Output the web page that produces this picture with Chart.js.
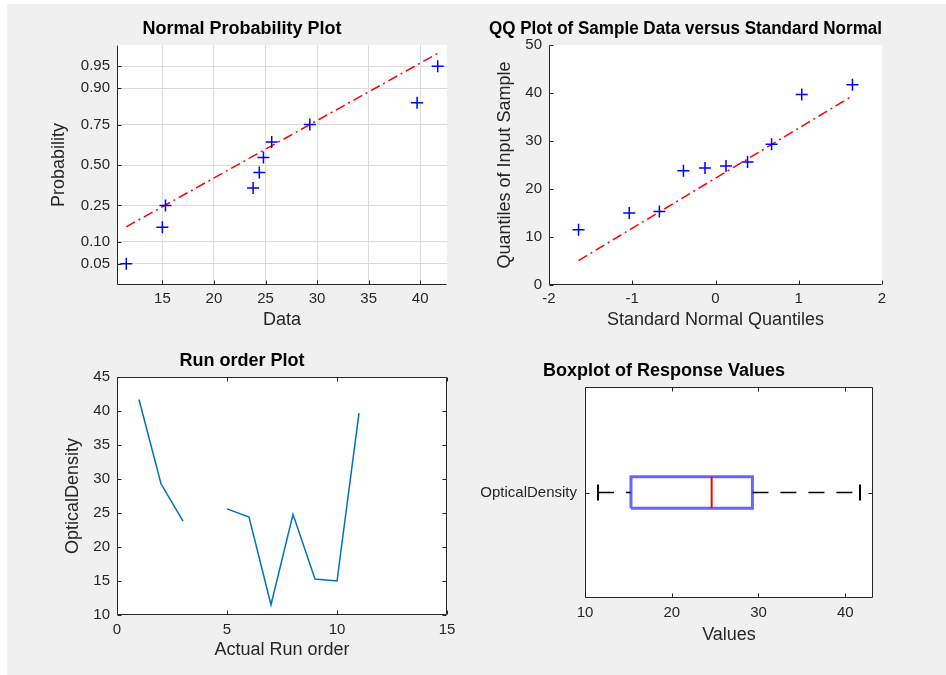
<!DOCTYPE html>
<html>
<head>
<meta charset="utf-8">
<title>Optical density diagnostics</title>
<script src="https://cdn.jsdelivr.net/npm/chart.js@4.4.1/dist/chart.umd.min.js"></script>
<style>
  html, body { margin: 0; padding: 0; width: 946px; height: 675px; overflow: hidden; background: #fff; }
  #fig { position: absolute; left: 7px; top: 4px; right: 0; bottom: 0; background: #f0f0f0; }
  canvas { position: absolute; }
</style>
</head>
<body>
<div id="fig"></div>
<canvas id="normChart" width="490" height="330" style="left:37px;top:5px"></canvas>
<canvas id="qqChart" width="453" height="330" style="left:489px;top:5px"></canvas>
<canvas id="runChart" width="490" height="328" style="left:37px;top:337px"></canvas>
<canvas id="boxChart" width="548" height="301" style="left:455px;top:347px"></canvas>
<script>
// readings in run order, run 4 has no value
const runOrder = [1, 2, 3, 4, 5, 6, 7, 8, 9, 10, 11];
const opticalDensity = [41.7, 29.3, 23.8, null, 25.6, 24.4, 11.5, 24.8, 15.3, 15.0, 39.7];

// standard normal quantiles of the plotting positions
const normalQuantiles = [-1.645, -1.036, -0.674, -0.385, -0.126, 0.126, 0.385, 0.674, 1.036, 1.645];

// probability axis of the normal plot
const probTickValues = [-1.645, -1.282, -0.674, 0, 0.674, 1.282, 1.645];
const probTickLabels = ['0.05', '0.10', '0.25', '0.50', '0.75', '0.90', '0.95'];

// reference lines (through the quartiles)
const normLineX = [11.5, 41.7];
const normLineZ = [-1.03, 1.86];
const qqLineX = [-1.645, 1.645];
const qqLineY = [5.1, 39.4];

// boxplot summary
const whiskerLow = 11.5;
const quartile1 = 15.3;
const medianValue = 24.6;
const quartile3 = 29.3;
const whiskerHigh = 41.7;

// tick labels
const normXTicks = [15, 20, 25, 30, 35, 40];
const qqXTicks = [-2, -1, 0, 1, 2];
const qqYTicks = [0, 10, 20, 30, 40, 50];
const runXTicks = [0, 5, 10, 15];
const runYTicks = [10, 15, 20, 25, 30, 35, 40, 45];
const boxXTicks = [10, 20, 30, 40];
const boxYTicks = [1];
const boxYLabels = ['OpticalDensity'];

const sortedDensity = opticalDensity.filter(v => v !== null).sort((a, b) => a - b);

Chart.defaults.font.family = '"Liberation Sans", Arial, sans-serif';
Chart.defaults.color = '#262626';
Chart.defaults.animation = false;

const axisColor = '#262626';

// white plot box, inward ticks and optional full box like a MATLAB axes
const matlabAxes = {
  id: 'matlabAxes',
  beforeDraw(chart) {
    const a = chart.chartArea;
    const ctx = chart.ctx;
    ctx.save();
    ctx.fillStyle = '#ffffff';
    ctx.fillRect(a.left, a.top, a.right - a.left, a.bottom - a.top);
    ctx.restore();
  },
  afterDraw(chart, args, opts) {
    const ctx = chart.ctx;
    const a = chart.chartArea;
    const l = Math.round(a.left) + 0.5, r = Math.round(a.right) - 0.5;
    const t = Math.round(a.top) + 0.5, b = Math.round(a.bottom) - 0.5;
    const len = 4;
    ctx.save();
    ctx.strokeStyle = axisColor;
    ctx.lineWidth = 1;
    ctx.beginPath();
    ctx.moveTo(l, t); ctx.lineTo(l, b); ctx.lineTo(r, b);
    if (opts.box) { ctx.lineTo(r, t); ctx.lineTo(l, t); }
    chart.scales.x.ticks.forEach(tk => {
      const px = Math.round(chart.scales.x.getPixelForValue(tk.value)) + 0.5;
      ctx.moveTo(px, b); ctx.lineTo(px, b - len);
      if (opts.box) { ctx.moveTo(px, t); ctx.lineTo(px, t + len); }
    });
    chart.scales.y.ticks.forEach(tk => {
      const py = Math.round(chart.scales.y.getPixelForValue(tk.value)) + 0.5;
      ctx.moveTo(l, py); ctx.lineTo(l + len, py);
      if (opts.box) { ctx.moveTo(r, py); ctx.lineTo(r - len, py); }
    });
    ctx.stroke();
    ctx.restore();
  }
};

function fixedTicks(values) {
  return scale => { scale.ticks = values.map(v => ({ value: v })); };
}

function makeTitle(text, top, bottom) {
  return { display: true, text: text, color: '#000', font: { size: 18, weight: 'bold' }, padding: { top: top, bottom: bottom } };
}

function axisTitle(text, pad) {
  return { display: true, text: text, color: axisColor, font: { size: 18 }, padding: { top: pad, bottom: pad } };
}

function xAxis(min, max, ticks, title, tickPad, titlePad, showGrid) {
  return {
    type: 'linear', min: min, max: max,
    afterBuildTicks: fixedTicks(ticks),
    afterFit: scale => { scale.height = 50; },
    ticks: { padding: tickPad, font: { size: 15 }, color: axisColor },
    grid: { display: showGrid, color: '#dcdcdc', drawTicks: false, tickLength: 0 },
    border: { display: false },
    title: axisTitle(title, titlePad)
  };
}

function yAxis(min, max, ticks, title, width, tickPad, titlePad, showGrid) {
  return {
    type: 'linear', min: min, max: max,
    afterBuildTicks: fixedTicks(ticks),
    afterFit: scale => { scale.width = width; },
    ticks: { padding: tickPad, font: { size: 15 }, color: axisColor },
    grid: { display: showGrid, color: '#dcdcdc', drawTicks: false, tickLength: 0 },
    border: { display: false },
    title: title ? axisTitle(title, titlePad) : { display: false }
  };
}

function toPoints(xs, ys) {
  return xs.map((x, i) => ({ x: x, y: ys[i] }));
}

// normal probability plot
const normY = yAxis(-2, 2, probTickValues, 'Probability', 80, 7, 11.2, true);
normY.ticks.callback = (value, index) => probTickLabels[index];
new Chart(document.getElementById('normChart'), {
  type: 'scatter',
  data: {
    datasets: [
      {
        data: toPoints(sortedDensity, normalQuantiles),
        pointStyle: 'cross', pointRadius: 6, borderColor: '#0000ff', borderWidth: 1.5
      },
      {
        data: toPoints(normLineX, normLineZ),
        showLine: true, pointRadius: 0, borderColor: '#ff0000', borderWidth: 1.5,
        borderDash: [10, 4, 2, 4]
      }
    ]
  },
  options: {
    responsive: false,
    layout: { padding: { left: 0, right: 80, top: 0, bottom: 0 }, autoPadding: false },
    scales: {
      x: xAxis(10.6, 42.6, normXTicks, 'Data', 5, 4.2, true),
      y: normY
    },
    plugins: {
      legend: { display: false },
      tooltip: { enabled: false },
      title: makeTitle('Normal Probability Plot', 13.2, 5.2),
      matlabAxes: { box: false }
    }
  },
  plugins: [matlabAxes]
});

// QQ plot
new Chart(document.getElementById('qqChart'), {
  type: 'scatter',
  data: {
    datasets: [
      {
        data: toPoints(normalQuantiles, sortedDensity),
        pointStyle: 'cross', pointRadius: 6, borderColor: '#0000ff', borderWidth: 1.5
      },
      {
        data: toPoints(qqLineX, qqLineY),
        showLine: true, pointRadius: 0, borderColor: '#ff0000', borderWidth: 1.5,
        borderDash: [10, 4, 2, 4]
      }
    ]
  },
  options: {
    responsive: false,
    layout: { padding: { left: 0, right: 60, top: 0, bottom: 0 }, autoPadding: false },
    scales: {
      x: xAxis(-2, 2, qqXTicks, 'Standard Normal Quantiles', 5, 4.2, false),
      y: yAxis(0, 50, qqYTicks, 'Quantiles of Input Sample', 60, 7, 5.2, false)
    },
    plugins: {
      legend: { display: false },
      tooltip: { enabled: false },
      title: makeTitle('QQ Plot of Sample Data versus Standard Normal', 13.2, 5.2),
      matlabAxes: { box: false }
    }
  },
  plugins: [matlabAxes]
});

// run order plot
new Chart(document.getElementById('runChart'), {
  type: 'scatter',
  data: {
    datasets: [{
      data: toPoints(runOrder, opticalDensity),
      showLine: true, spanGaps: false, pointRadius: 0,
      borderColor: '#0072bd', borderWidth: 1.5
    }]
  },
  options: {
    responsive: false,
    layout: { padding: { left: 0, right: 80, top: 0, bottom: 0 }, autoPadding: false },
    scales: {
      x: xAxis(0, 15, runXTicks, 'Actual Run order', 6, 4.2, false),
      y: yAxis(10, 45, runYTicks, 'OpticalDensity', 80, 7, 25.2, false)
    },
    plugins: {
      legend: { display: false },
      tooltip: { enabled: false },
      title: makeTitle('Run order Plot', 13.2, 5.2),
      matlabAxes: { box: true }
    }
  },
  plugins: [matlabAxes]
});

// boxplot
const boxHalf = 0.075;
const capHalf = 0.038;
const boxY = yAxis(0.5, 1.5, boxYTicks, null, 130, 8, 0, false);
boxY.ticks.callback = (value, index) => boxYLabels[index];
new Chart(document.getElementById('boxChart'), {
  type: 'scatter',
  data: {
    datasets: [
      {
        data: toPoints([medianValue, medianValue], [1 - boxHalf, 1 + boxHalf]),
        showLine: true, pointRadius: 0, borderColor: '#ff0000', borderWidth: 2
      },
      {
        data: toPoints([quartile1, quartile3, quartile3, quartile1, quartile1],
                       [1 - boxHalf, 1 - boxHalf, 1 + boxHalf, 1 + boxHalf, 1 - boxHalf]),
        showLine: true, pointRadius: 0, borderColor: 'rgba(0, 0, 255, 0.6)', borderWidth: 3
      },
      {
        data: toPoints([whiskerLow, quartile1], [1, 1]),
        showLine: true, pointRadius: 0, borderColor: '#000', borderWidth: 1.5, borderDash: [16, 12]
      },
      {
        data: toPoints([quartile3, whiskerHigh], [1, 1]),
        showLine: true, pointRadius: 0, borderColor: '#000', borderWidth: 1.5, borderDash: [16, 12]
      },
      {
        data: toPoints([whiskerLow, whiskerLow], [1 - capHalf, 1 + capHalf]),
        showLine: true, pointRadius: 0, borderColor: '#000', borderWidth: 2
      },
      {
        data: toPoints([whiskerHigh, whiskerHigh], [1 - capHalf, 1 + capHalf]),
        showLine: true, pointRadius: 0, borderColor: '#000', borderWidth: 2
      }
    ]
  },
  options: {
    responsive: false,
    layout: { padding: { left: 0, right: 130, top: 0, bottom: 0 }, autoPadding: false },
    scales: {
      x: xAxis(10, 43.2, boxXTicks, 'Values', 5.7, 2.2, false),
      y: boxY
    },
    plugins: {
      legend: { display: false },
      tooltip: { enabled: false },
      title: makeTitle('Boxplot of Response Values', 13.7, 4.7),
      matlabAxes: { box: true }
    }
  },
  plugins: [matlabAxes]
});
</script>
</body>
</html>
